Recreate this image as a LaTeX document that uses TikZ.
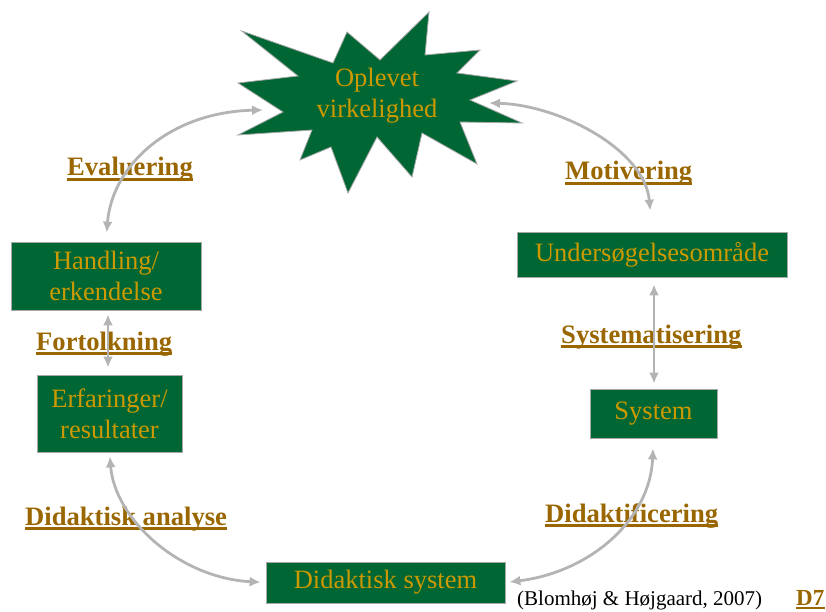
\documentclass[tikz,border=0pt]{standalone}
\usepackage{fontspec}
\setmainfont{Liberation Serif}
\usetikzlibrary{arrows.meta}

\definecolor{boxgreen}{HTML}{006633}
\definecolor{boxtext}{HTML}{CC9900}
\definecolor{labelbrown}{HTML}{996600}
\definecolor{linkgray}{HTML}{B4B4B4}
\definecolor{edgegray}{HTML}{A8A8A8}

% underlined bold phase label: name, base-west position, text
\newcommand\phaselabel[3]{%
  \node[phase] (#1) at (#2) {#3};
  \draw[labelbrown, line width=2.8pt]
    ([yshift=-3.8pt]#1.base west) -- ([yshift=-3.8pt]#1.base east);}

\begin{document}
\begin{tikzpicture}[x=1pt, y=-1pt,
  stepbox/.style={draw=edgegray, line width=0.8pt, fill=boxgreen,
    text=boxtext, font=\fontsize{26.5}{31}\selectfont, align=center, inner sep=0pt},
  phase/.style={text=labelbrown, font=\fontsize{26.6}{31}\selectfont\bfseries,
    inner sep=0pt, anchor=base west},
  link/.style={draw=linkgray, line width=2.8pt,
    {Latex[length=11pt,width=10pt]}-{Latex[length=11pt,width=10pt]}},
]
\useasboundingbox (0,0) rectangle (826,612);

% star-shaped "lived reality"
\draw[draw=edgegray, line width=0.8pt, fill=boxgreen]
  (241.7,31) -- (333,63) -- (347,32) -- (380,60) -- (429,12) -- (425,55)
  -- (480,50) -- (457,73) -- (517,81) -- (470,100) -- (522,123) -- (460,122)
  -- (477,164) -- (422,133) -- (412,177) -- (377,137) -- (348,193) -- (331,147)
  -- (300,160) -- (312,130) -- (238,135) -- (283,112) -- (238,83) -- (298,76)
  -- cycle;
\node[text=boxtext, font=\fontsize{26.5}{31}\selectfont, align=center, inner sep=0pt]
  (sb) at (377,96) {Oplevet\\virkelighed};
\coordinate (sbW) at (263,110);
\coordinate (sbE) at (489,103);

% boxes
\node[stepbox, minimum width=190pt, minimum height=68pt] (hand) at (106,276) {Handling/\\erkendelse};
\node[stepbox, minimum width=145pt, minimum height=77pt] (erf) at (109.5,413.5) {Erfaringer/\\resultater};
\node[stepbox, minimum width=270pt, minimum height=45pt] (und) at (652,254.5) {Undersøgelsesområde};
\node[stepbox, minimum width=127pt, minimum height=49pt] (sys) at (653.5,413.5) {System};
\node[stepbox, minimum width=239pt, minimum height=41pt] (did) at (385.5,582.5) {Didaktisk system};

% phase labels
\phaselabel{lEval}{67,176}{Evaluering}
\phaselabel{lMot}{565,179.5}{Motivering}
\phaselabel{lFort}{36,350}{Fortolkning}
\phaselabel{lSyst}{561,343}{Systematisering}
\phaselabel{lDana}{25,525}{Didaktisk analyse}
\phaselabel{lDfic}{545,522}{Didaktificering}

% connectors
\draw[link, shorten <=9pt] (hand.north) .. controls (112,165) and (170,112) .. (sbW);
\draw[link, shorten >=21pt] (sbE) .. controls (560,105) and (645,150) .. (und.north);
\draw[link, shorten <=4pt, shorten >=7pt] ([xshift=2pt]hand.south) -- ([xshift=-1.5pt]erf.north);
\draw[link, shorten <=7pt, shorten >=5pt] ([xshift=2pt]und.south) -- ([xshift=0.5pt]sys.north);
\draw[link, shorten <=4pt, shorten >=5pt] (erf.south) .. controls (115,520) and (180,578) .. (did.west);
\draw[link, shorten <=4pt, shorten >=10pt] (did.east) .. controls (590,572) and (650,520) .. (sys.south);

% reference
\node[anchor=base west, inner sep=0pt, font=\fontsize{21}{25}\selectfont]
  (cite) at (517,605) {(Blomhøj \& Højgaard, 2007)};
\node[anchor=base west, inner sep=0pt, text=labelbrown, font=\fontsize{23}{26}\selectfont\bfseries]
  (slide) at (796,605) {D7};
\draw[labelbrown, line width=2.4pt]
  ([yshift=-3.2pt]slide.base west) -- ([yshift=-3.2pt]slide.base east);
\end{tikzpicture}
\end{document}
